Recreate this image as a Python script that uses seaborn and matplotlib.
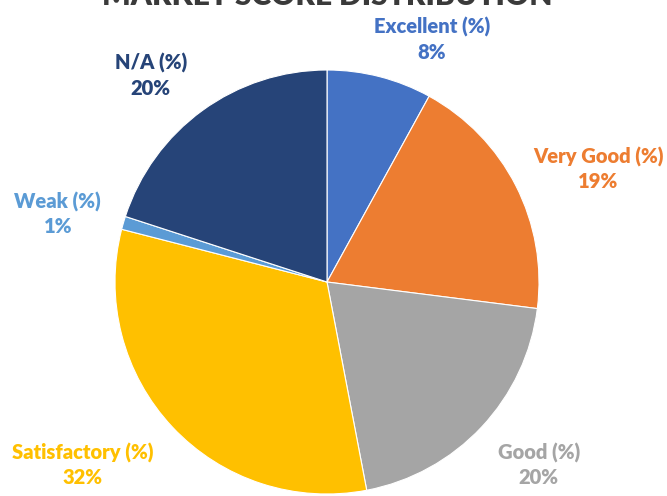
import numpy as np
import matplotlib
matplotlib.use("Agg")
import matplotlib.pyplot as plt
import seaborn as sns

# Score categories and their share of markets (%)
categories = ["Excellent (%)", "Very Good (%)", "Good (%)", "Satisfactory (%)", "Weak (%)", "N/A (%)"]
shares = [8, 19, 20, 32, 1, 20]
slice_colors = ["#4472C4", "#ED7D31", "#A5A5A5", "#FFC000", "#5B9BD5", "#264478"]
title_text = "MARKET SCORE DISTRIBUTION"

# Label placement: radial distance (in radii) and angular nudge (deg) per slice
label_dist = [1.245, 1.385, 1.32, 1.44, 1.31, 1.28]
label_nudge = [-9.0, -4.4, 2.4, -6.4, 2.0, 4.5]

sns.set_theme(style="white")
plt.rcParams["font.family"] = ["Lato", "DejaVu Sans"]

W, H = 667, 496
fig = plt.figure(figsize=(W / 100, H / 100), dpi=100)
fig.patch.set_facecolor("white")

cx, cy, R = 327, 282, 212
ax = fig.add_axes([(cx - R) / W, 1 - (cy + R) / H, 2 * R / W, 2 * R / H])
palette = sns.color_palette(slice_colors)
wedges, _ = ax.pie(shares, colors=palette, startangle=90, counterclock=False,
                   radius=1.0, wedgeprops=dict(linewidth=0.8, edgecolor="white"))
ax.set_xlim(-1, 1)
ax.set_ylim(-1, 1)
ax.axis("off")

for w, cat, val, col, d, nudge in zip(wedges, categories, shares, slice_colors, label_dist, label_nudge):
    mid = np.deg2rad((w.theta1 + w.theta2) / 2 + nudge)
    ax.text(d * np.cos(mid), d * np.sin(mid), f"{cat}\n{val}%", color=col,
            ha="center", va="center", fontsize=14.5, fontweight="heavy",
            linespacing=1.35, clip_on=False)

fig.text(0.49, 1 - 5 / H, title_text, ha="center", va="baseline",
         fontsize=21.5, fontweight="heavy", color="#3A3A3A")

fig.savefig("out.png", dpi=100, facecolor="white")
